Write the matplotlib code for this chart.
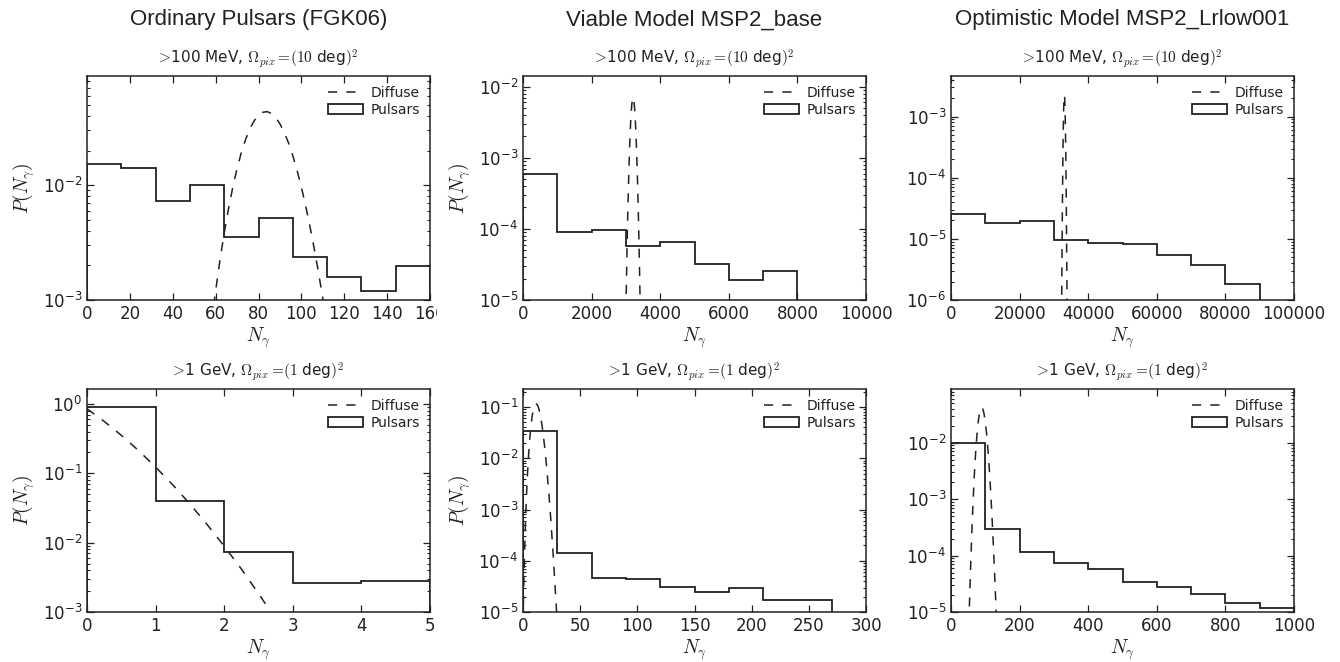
import matplotlib
matplotlib.use("Agg")
import matplotlib.pyplot as plt
from matplotlib.lines import Line2D
from matplotlib.patches import Patch
from matplotlib.transforms import Bbox, TransformedBbox

# ---------------- data ----------------
col_titles = ["Ordinary Pulsars (FGK06)", "Viable Model MSP2_base", "Optimistic Model MSP2_Lrlow001"]
row_titles = [r"$\!>\!$100 MeV, $\Omega_{pix}=\!(10$ deg$)^2$", r"$\!>\!$1 GeV, $\Omega_{pix}=\!(1$ deg$)^2$"]

# top-left: ordinary pulsars, >100 MeV
p1_edges = [0, 16, 32, 48, 64, 80, 96, 112, 128, 144, 160]
p1_pulsar = [1.52e-2, 1.40e-2, 7.2e-3, 1.0e-2, 3.56e-3, 5.16e-3, 2.38e-3, 1.57e-3, 1.19e-3, 1.98e-3]
p1_diff_x = [58, 60, 62, 64, 66, 68, 70, 72, 74, 76, 78, 80, 82, 84, 86, 88, 90, 92, 94, 96,
             98, 100, 102, 104, 106, 108, 110, 112]
p1_diff_y = [6.2e-4, 1.2e-3, 2.21e-3, 3.82e-3, 6.2e-3, 9.57e-3, 1.39e-2, 1.92e-2, 2.5e-2, 3.1e-2,
             3.63e-2, 4.05e-2, 4.3e-2, 4.36e-2, 4.2e-2, 3.88e-2, 3.41e-2, 2.88e-2, 2.33e-2, 1.8e-2,
             1.34e-2, 9.58e-3, 6.6e-3, 4.37e-3, 2.8e-3, 1.73e-3, 1.03e-3, 5.96e-4]

# top-middle: MSP2_base, >100 MeV
p2_edges = [0, 1000, 2000, 3000, 4000, 5000, 6000, 7000, 8000]
p2_pulsar = [6.0e-4, 9.1e-5, 9.7e-5, 5.8e-5, 6.5e-5, 3.25e-5, 1.9e-5, 2.55e-5]
p2_diff_x = [2990, 3010, 3030, 3050, 3070, 3090, 3110, 3130, 3150, 3170, 3190, 3205, 3220, 3240,
             3260, 3280, 3300, 3320, 3340, 3360, 3380, 3400, 3420, 3440]
p2_diff_y = [3.7e-6, 1.3e-5, 4.5e-5, 1.29e-4, 3.3e-4, 7.4e-4, 1.48e-3, 2.59e-3, 4.0e-3, 5.5e-3,
             6.6e-3, 7.05e-3, 6.8e-3, 5.9e-3, 4.5e-3, 3.0e-3, 1.8e-3, 9.5e-4, 4.5e-4, 1.9e-4,
             7.0e-5, 2.3e-5, 6.8e-6, 1.8e-6]

# top-right: MSP2_Lrlow001, >100 MeV
p3_edges = [0, 10000, 20000, 30000, 40000, 50000, 60000, 70000, 80000, 90000]
p3_pulsar = [2.56e-5, 1.80e-5, 1.94e-5, 9.75e-6, 8.6e-6, 8.1e-6, 5.54e-6, 3.7e-6, 1.84e-6]
p3_diff_x = [32250, 32350, 32450, 32550, 32650, 32750, 32850, 32950, 33050, 33150, 33250, 33350,
             33450, 33550, 33650, 33750, 33850]
p3_diff_y = [6.1e-7, 4.2e-6, 2.23e-5, 9.1e-5, 2.89e-4, 7.1e-4, 1.35e-3, 1.98e-3, 2.25e-3, 1.98e-3,
             1.35e-3, 7.1e-4, 2.89e-4, 9.1e-5, 2.23e-5, 4.2e-6, 6.1e-7]

# bottom-left: ordinary pulsars, >1 GeV
p4_edges = [0, 1, 2, 3, 4, 5]
p4_pulsar = [0.905, 0.040, 7.26e-3, 2.62e-3, 2.8e-3]
p4_diff_x = [0, 0.25, 0.5, 0.75, 1.0, 1.25, 1.5, 1.75, 2.0, 2.25, 2.5, 2.62]
p4_diff_y = [0.851, 0.560, 0.353, 0.213, 0.123, 0.0681, 0.0361, 0.0183, 8.9e-3, 4.17e-3, 1.85e-3, 1.23e-3]

# bottom-middle: MSP2_base, >1 GeV
p5_edges = [0, 30, 60, 90, 120, 150, 180, 210, 240, 270]
p5_pulsar = [3.39e-2, 1.42e-4, 4.6e-5, 4.4e-5, 3.14e-5, 2.5e-5, 2.9e-5, 1.72e-5, 1.72e-5]
p5_diff_x = [0, 1, 2, 3, 4, 5, 6, 7, 8, 9, 10, 11, 12, 13, 14, 15, 16, 17, 18, 19, 20, 21, 22,
             23, 24, 25, 26, 27, 28, 29, 30]
p5_diff_y = [6.1e-6, 7.4e-5, 4.4e-4, 1.77e-3, 5.3e-3, 1.27e-2, 2.55e-2, 4.37e-2, 6.55e-2, 8.74e-2,
             0.1048, 0.1144, 0.1144, 0.1056, 0.0905, 0.0724, 0.0543, 0.0383, 0.0255, 0.0161,
             9.7e-3, 5.5e-3, 3.0e-3, 1.6e-3, 8.0e-4, 3.8e-4, 1.76e-4, 7.8e-5, 3.3e-5, 1.4e-5, 5.5e-6]

# bottom-right: MSP2_Lrlow001, >1 GeV
p6_edges = [0, 100, 200, 300, 400, 500, 600, 700, 800, 900, 1000]
p6_pulsar = [9.7e-3, 3.0e-4, 1.15e-4, 7.3e-5, 5.7e-5, 3.4e-5, 2.8e-5, 2.1e-5, 1.44e-5, 1.17e-5]
p6_diff_x = [52, 56, 60, 64, 68, 72, 76, 80, 84, 88, 90, 92, 96, 100, 104, 108, 112, 116, 120,
             124, 128, 132]
p6_diff_y = [5.9e-6, 3.86e-5, 1.99e-4, 8.1e-4, 2.64e-3, 6.9e-3, 1.457e-2, 2.51e-2, 3.55e-2,
             4.16e-2, 4.21e-2, 4.07e-2, 3.35e-2, 2.34e-2, 1.39e-2, 7.15e-3, 3.19e-3, 1.245e-3,
             4.27e-4, 1.31e-4, 3.58e-5, 8.9e-6]

panels = [
    dict(edges=p1_edges, pulsar=p1_pulsar, dx=p1_diff_x, dy=p1_diff_y,
         xlim=(0, 160), xticks=[0, 20, 40, 60, 80, 100, 120, 140, 160], ylim=(1e-3, 8.9e-2)),
    dict(edges=p2_edges, pulsar=p2_pulsar, dx=p2_diff_x, dy=p2_diff_y,
         xlim=(0, 10000), xticks=[0, 2000, 4000, 6000, 8000, 10000], ylim=(1e-5, 1.41e-2)),
    dict(edges=p3_edges, pulsar=p3_pulsar, dx=p3_diff_x, dy=p3_diff_y,
         xlim=(0, 100000), xticks=[0, 20000, 40000, 60000, 80000, 100000], ylim=(1e-6, 4.6e-3)),
    dict(edges=p4_edges, pulsar=p4_pulsar, dx=p4_diff_x, dy=p4_diff_y,
         xlim=(0, 5), xticks=[0, 1, 2, 3, 4, 5], ylim=(1e-3, 1.64)),
    dict(edges=p5_edges, pulsar=p5_pulsar, dx=p5_diff_x, dy=p5_diff_y,
         xlim=(0, 300), xticks=[0, 50, 100, 150, 200, 250, 300], ylim=(1e-5, 0.225)),
    dict(edges=p6_edges, pulsar=p6_pulsar, dx=p6_diff_x, dy=p6_diff_y,
         xlim=(0, 1000), xticks=[0, 200, 400, 600, 800, 1000], ylim=(1e-5, 8.9e-2)),
]

# ---------------- style ----------------
plt.rcParams['font.family'] = ['DejaVu Sans']
plt.rcParams['axes.unicode_minus'] = False
INK = '#222222'

W, H = 1340, 662
fig = plt.figure(figsize=(W / 100, H / 100), dpi=100)

lefts = [87, 523, 951]
tops = [76, 389]
bottoms = [300, 612]
aw = 343

axes = []
for r in range(2):
    for c in range(3):
        ax = fig.add_axes([lefts[c] / W, 1 - bottoms[r] / H, aw / W, (bottoms[r] - tops[r]) / H])
        axes.append((r, c, ax))

for (r, c, ax), p in zip(axes, panels):
    ax.set_yscale('log')
    centers = [(a + b) / 2 for a, b in zip(p['edges'][:-1], p['edges'][1:])]
    ax.hist(centers, bins=p['edges'], weights=p['pulsar'], histtype='step',
            color=INK, lw=1.3)
    ax.plot(p['dx'], p['dy'], color=INK, lw=1.1, linestyle=(0, (6, 6)))
    ax.set_xlim(*p['xlim'])
    ax.set_ylim(*p['ylim'])
    ax.set_xticks(p['xticks'])
    ax.tick_params(which='both', direction='in', top=True, right=True, colors=INK,
                   labelcolor=INK, labelsize=12)
    ax.tick_params(which='major', length=5, width=0.9)
    ax.tick_params(which='minor', length=2.5, width=0.8)
    for s in ax.spines.values():
        s.set_linewidth(1.1)
        s.set_color(INK)
    ax.set_title(row_titles[r], fontsize=11, math_fontfamily='cm', color=INK, pad=9)
    ax.set_xlabel(r"$N_\gamma$", fontsize=14, math_fontfamily='cm', color=INK, labelpad=2)
    if c < 2:
        ax.set_ylabel(r"$P(N_\gamma)$", fontsize=14, math_fontfamily='cm', color=INK, labelpad=4)
    handles = [Line2D([], [], color=INK, lw=1.1, linestyle=(0, (6, 6))),
               Patch(facecolor='none', edgecolor=INK, lw=1.3)]
    ax.legend(handles, ['Diffuse', 'Pulsars'], loc='upper right', frameon=False,
              fontsize=10, handlelength=2.5, labelspacing=0.25, handletextpad=0.6,
              borderaxespad=0.3, labelcolor=INK)

for c in range(3):
    fig.text((lefts[c] + aw / 2) / W, 1 - 20 / H, col_titles[c], ha='center', va='center',
             fontsize=16, family='Liberation Sans', color=INK)

# the "160" label of the first panel is cut at the panel border in the reference
fig.canvas.draw()
ax0 = axes[0][2]
clip = TransformedBbox(Bbox([[0, 0], [437 / W, 1]]), fig.transFigure)
for lab in ax0.get_xticklabels():
    lab.set_clip_box(clip)
    lab.set_clip_on(True)

fig.savefig('out.png', dpi=100)
